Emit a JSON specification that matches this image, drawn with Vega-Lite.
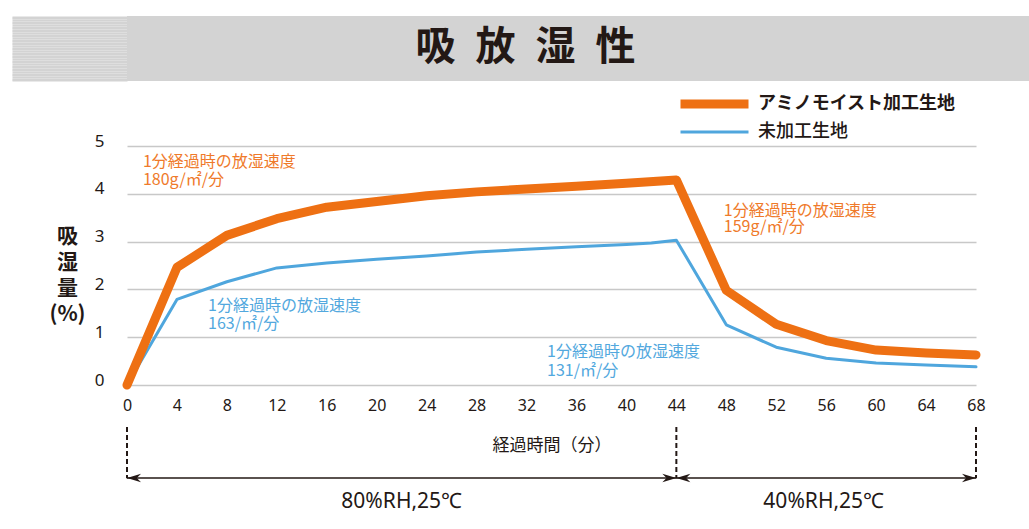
{
  "$schema": "https://vega.github.io/schema/vega-lite/v6.json",
  "background": "white",
  "padding": {"top": 15, "left": 10, "right": 0, "bottom": 0},
  "spacing": 9,
  "resolve": {"scale": {"color": "independent", "strokeWidth": "independent", "fill": "independent", "shape": "independent"}},
  "config": {"view": {"stroke": null}, "font": "Noto Sans CJK JP"},
  "datasets": {
    "lines": [
      {"series": "アミノモイスト加工生地", "t": 0, "v": 0},
      {"series": "アミノモイスト加工生地", "t": 4, "v": 2.46},
      {"series": "アミノモイスト加工生地", "t": 8, "v": 3.13},
      {"series": "アミノモイスト加工生地", "t": 12, "v": 3.48},
      {"series": "アミノモイスト加工生地", "t": 16, "v": 3.72},
      {"series": "アミノモイスト加工生地", "t": 20, "v": 3.84},
      {"series": "アミノモイスト加工生地", "t": 24, "v": 3.96},
      {"series": "アミノモイスト加工生地", "t": 28, "v": 4.04},
      {"series": "アミノモイスト加工生地", "t": 32, "v": 4.1},
      {"series": "アミノモイスト加工生地", "t": 36, "v": 4.16},
      {"series": "アミノモイスト加工生地", "t": 40, "v": 4.22},
      {"series": "アミノモイスト加工生地", "t": 44, "v": 4.29},
      {"series": "アミノモイスト加工生地", "t": 48, "v": 1.98},
      {"series": "アミノモイスト加工生地", "t": 52, "v": 1.27},
      {"series": "アミノモイスト加工生地", "t": 56, "v": 0.93},
      {"series": "アミノモイスト加工生地", "t": 60, "v": 0.73},
      {"series": "アミノモイスト加工生地", "t": 64, "v": 0.67},
      {"series": "アミノモイスト加工生地", "t": 68, "v": 0.63},
      {"series": "未加工生地", "t": 0, "v": 0},
      {"series": "未加工生地", "t": 4, "v": 1.79},
      {"series": "未加工生地", "t": 8, "v": 2.16},
      {"series": "未加工生地", "t": 12, "v": 2.45},
      {"series": "未加工生地", "t": 16, "v": 2.55},
      {"series": "未加工生地", "t": 20, "v": 2.63},
      {"series": "未加工生地", "t": 24, "v": 2.7},
      {"series": "未加工生地", "t": 28, "v": 2.78},
      {"series": "未加工生地", "t": 32, "v": 2.84},
      {"series": "未加工生地", "t": 36, "v": 2.89},
      {"series": "未加工生地", "t": 40, "v": 2.94},
      {"series": "未加工生地", "t": 42, "v": 2.97},
      {"series": "未加工生地", "t": 44, "v": 3.03},
      {"series": "未加工生地", "t": 48, "v": 1.26},
      {"series": "未加工生地", "t": 52, "v": 0.79},
      {"series": "未加工生地", "t": 56, "v": 0.56},
      {"series": "未加工生地", "t": 60, "v": 0.46},
      {"series": "未加工生地", "t": 64, "v": 0.42},
      {"series": "未加工生地", "t": 68, "v": 0.38}
    ],
    "notes": [
      {"series": "アミノモイスト加工生地", "x": 1.28, "y": 4.66, "text": "1分経過時の放湿速度"},
      {"series": "アミノモイスト加工生地", "x": 1.28, "y": 4.29, "text": "180g/㎡/分"},
      {"series": "アミノモイスト加工生地", "x": 47.8, "y": 3.65, "text": "1分経過時の放湿速度"},
      {"series": "アミノモイスト加工生地", "x": 47.8, "y": 3.31, "text": "159g/㎡/分"},
      {"series": "未加工生地", "x": 6.49, "y": 1.66, "text": "1分経過時の放湿速度"},
      {"series": "未加工生地", "x": 6.49, "y": 1.28, "text": "163/㎡/分"},
      {"series": "未加工生地", "x": 33.64, "y": 0.7, "text": "1分経過時の放湿速度"},
      {"series": "未加工生地", "x": 33.64, "y": 0.3, "text": "131/㎡/分"}
    ],
    "bounds": [{"t": 0}, {"t": 44}, {"t": 68}],
    "span": [{"t0": 0, "t1": 68}],
    "arrows": [
      {"t": 0, "dir": "left"},
      {"t": 44, "dir": "right"},
      {"t": 44, "dir": "left"},
      {"t": 68, "dir": "right"}
    ],
    "regions": [
      {"t": 22.0, "label": "80%RH,25℃"},
      {"t": 55.8, "label": "40%RH,25℃"}
    ]
  },
  "vconcat": [
    {
      "width": 903,
      "height": 65,
      "view": {"fill": "#d3d3d3", "stroke": null},
      "data": {"values": [{}]},
      "mark": {"type": "rule", "opacity": 0},
      "encoding": {
        "y": {
          "datum": 0.5, "type": "quantitative",
          "scale": {"domain": [0, 1], "nice": false},
          "axis": {
            "orient": "left",
            "values": [0.0125, 0.0375, 0.0625, 0.0875, 0.1125, 0.1375, 0.1625, 0.1875, 0.2125, 0.2375, 0.2625, 0.2875, 0.3125, 0.3375, 0.3625, 0.3875, 0.4125, 0.4375, 0.4625, 0.4875, 0.5125, 0.5375, 0.5625, 0.5875, 0.6125, 0.6375, 0.6625, 0.6875, 0.7125, 0.7375, 0.7625, 0.7875, 0.8125, 0.8375, 0.8625, 0.8875, 0.9125, 0.9375, 0.9625, 0.9875],
            "domain": false, "grid": false, "labels": false,
            "minExtent": 0, "labelPadding": 0, "offset": 0,
            "ticks": true, "tickSize": 115, "tickWidth": 2.2, "tickColor": "#d3d3d3", "tickCap": "butt",
            "title": "吸\u2002放\u2002湿\u2002性",
            "titleAngle": 0, "titleAlign": "center", "titleBaseline": "middle",
            "titleX": 398, "titleY": 31,
            "titleFontSize": 40, "titleFontWeight": "bold", "titleFont": "Noto Sans CJK JP", "titleColor": "#231815"
          }
        }
      }
    },
    {
      "width": 849,
      "height": 239,
      "layer": [
        {
          "data": {"name": "lines"},
          "transform": [{"filter": "datum.series === '未加工生地'"}],
          "mark": {"type": "line", "strokeCap": "round", "strokeJoin": "round"},
          "encoding": {
            "x": {
              "field": "t", "type": "quantitative",
              "scale": {"domain": [0, 68], "nice": false, "zero": false},
              "axis": {
                "values": [0, 4, 8, 12, 16, 20, 24, 28, 32, 36, 40, 44, 48, 52, 56, 60, 64, 68],
                "title": "経過時間（分）", "grid": false, "domain": false, "ticks": false,
                "labelFont": "Noto Sans", "labelFontSize": 16, "labelColor": "#231815", "labelPadding": 12, "labelFlush": false,
                "titleFont": "Noto Sans CJK JP", "titleFontSize": 17, "titleFontWeight": "normal", "titleColor": "#231815", "titlePadding": 24
              }
            },
            "y": {
              "field": "v", "type": "quantitative",
              "scale": {"domain": [0, 5], "nice": false},
              "axis": {
                "values": [0, 1, 2, 3, 4, 5],
                "grid": true, "gridColor": "#c8c8c8", "gridWidth": 1.5,
                "domain": false, "ticks": true, "tickSize": 116, "tickColor": "transparent",
                "labelFont": "Noto Sans", "labelFontSize": 17, "labelColor": "#231815", "labelPadding": -93, "labelOffset": -5,
                "title": ["吸", "湿", "量", "(%)"],
                "titleAngle": 0, "titleAlign": "center", "titleBaseline": "top",
                "titleX": -60, "titleY": 79, "titleFontSize": 21, "titleLineHeight": 26,
                "titleFontWeight": "bold", "titleFont": "Noto Sans CJK JP", "titleColor": "#231815"
              }
            },
            "color": {
              "field": "series", "type": "nominal",
              "scale": {"domain": ["アミノモイスト加工生地", "未加工生地"], "range": ["#ee7013", "#4fa6dd"]},
              "legend": {
                "orient": "none", "legendX": 549, "legendY": -55, "title": null,
                "symbolType": "M-1,0H7", "symbolSize": 289, "labelOffset": 56,
                "labelFontSize": 18, "labelFont": "Noto Sans CJK JP", "labelColor": "#231815",
                "rowPadding": -1, "labelLimit": 400,
                "encode": {"labels": {"update": {"fontWeight": {"signal": "datum.value === 'アミノモイスト加工生地' ? 'bold' : 500"}}}}
              }
            },
            "strokeWidth": {
              "field": "series", "type": "nominal",
              "scale": {"domain": ["アミノモイスト加工生地", "未加工生地"], "range": [9, 3]},
              "legend": {
                "orient": "none", "legendX": 549, "legendY": -55, "title": null,
                "symbolType": "M-1,0H7", "symbolSize": 289, "labelOffset": 56,
                "labelFontSize": 18, "labelFont": "Noto Sans CJK JP", "labelColor": "#231815",
                "rowPadding": -1, "labelLimit": 400,
                "encode": {"labels": {"update": {"fontWeight": {"signal": "datum.value === 'アミノモイスト加工生地' ? 'bold' : 500"}}}}
              }
            }
          }
        },
        {
          "data": {"name": "lines"},
          "transform": [{"filter": "datum.series === 'アミノモイスト加工生地'"}],
          "mark": {"type": "line", "strokeCap": "round", "strokeJoin": "round"},
          "encoding": {
            "x": {"field": "t", "type": "quantitative"},
            "y": {"field": "v", "type": "quantitative"},
            "color": {"field": "series", "type": "nominal"},
            "strokeWidth": {"field": "series", "type": "nominal"}
          }
        },
        {
          "data": {"name": "notes"},
          "mark": {"type": "text", "align": "left", "baseline": "middle", "fontSize": 16, "font": "Noto Sans CJK JP"},
          "encoding": {
            "x": {"field": "x", "type": "quantitative"},
            "y": {"field": "y", "type": "quantitative"},
            "text": {"field": "text", "type": "nominal"},
            "fill": {
              "field": "series", "type": "nominal",
              "scale": {"domain": ["アミノモイスト加工生地", "未加工生地"], "range": ["#ef7a2a", "#52a8de"]},
              "legend": null
            }
          }
        },
        {
          "data": {"name": "bounds"},
          "mark": {"type": "rule", "strokeDash": [5, 3], "strokeWidth": 2, "color": "#231815"},
          "encoding": {
            "x": {"field": "t", "type": "quantitative"},
            "y": {"datum": -0.88},
            "y2": {"datum": -1.95}
          }
        },
        {
          "data": {"name": "span"},
          "mark": {"type": "rule", "strokeWidth": 1.5, "color": "#231815"},
          "encoding": {
            "x": {"field": "t0", "type": "quantitative"},
            "x2": {"field": "t1"},
            "y": {"datum": -1.946}
          }
        },
        {
          "data": {"name": "arrows"},
          "mark": {"type": "point", "filled": true, "size": 784, "color": "#231815", "opacity": 1, "strokeWidth": 0},
          "encoding": {
            "x": {"field": "t", "type": "quantitative"},
            "y": {"datum": -1.946},
            "shape": {
              "field": "dir", "type": "nominal",
              "scale": {"domain": ["left", "right"], "range": ["M0,0L1,-0.3L0.7,0L1,0.3Z", "M0,0L-1,-0.3L-0.7,0L-1,0.3Z"]},
              "legend": null
            }
          }
        },
        {
          "data": {"name": "regions"},
          "mark": {"type": "text", "align": "center", "baseline": "middle", "fontSize": 21, "font": "Noto Sans", "color": "#231815"},
          "encoding": {
            "x": {"field": "t", "type": "quantitative"},
            "y": {"datum": -2.45},
            "text": {"field": "label", "type": "nominal"}
          }
        }
      ]
    }
  ]
}
